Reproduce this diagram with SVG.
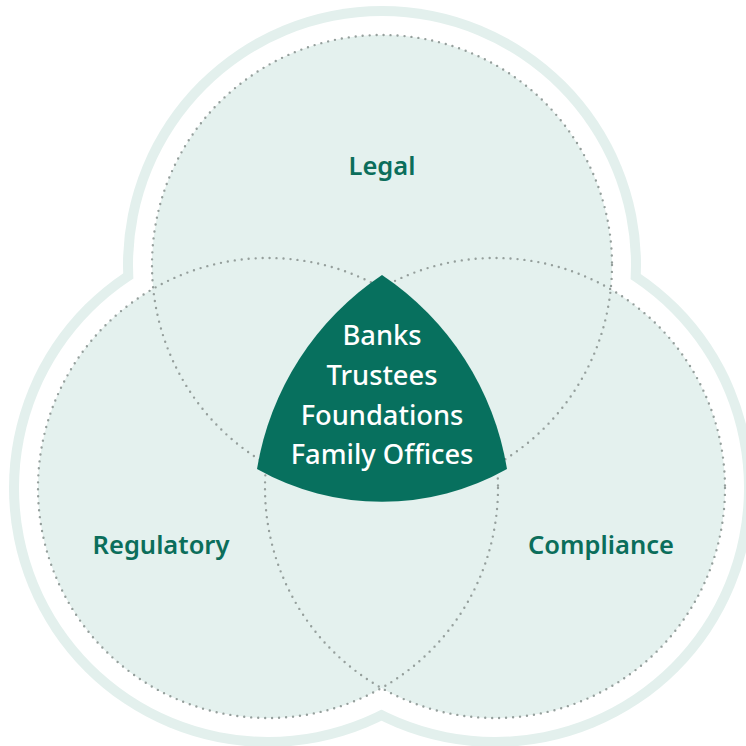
<svg xmlns="http://www.w3.org/2000/svg" width="746" height="746" viewBox="0 0 746 746">
  <style>
    .band { fill: #e3f0ed; }
    .gap { fill: #ffffff; }
    .fill { fill: #e4f1ee; }
    .dots { fill: none; stroke: #959f9c; stroke-width: 2.4; stroke-linecap: round; stroke-dasharray: 0 7; }
    .label { font-family: "Noto Sans", "Open Sans", sans-serif; font-weight: 600; font-size: 25.5px; fill: #0b6e5b; text-anchor: middle; }
    .core-text { font-family: "Noto Sans", "Open Sans", sans-serif; font-weight: 500; font-size: 27.3px; fill: #ffffff; text-anchor: middle; }
  </style>
  <rect width="746" height="746" fill="#ffffff"/>
  <g id="outline">
    <circle class="band" cx="382" cy="265" r="259"/>
    <circle class="band" cx="268" cy="488" r="259"/>
    <circle class="band" cx="495" cy="488" r="259"/>
    <circle class="gap" cx="382" cy="265" r="249"/>
    <circle class="gap" cx="268" cy="488" r="249"/>
    <circle class="gap" cx="495" cy="488" r="249"/>
  </g>
  <g id="fills">
    <circle class="fill" cx="382" cy="265" r="230"/>
    <circle class="fill" cx="268" cy="488" r="230"/>
    <circle class="fill" cx="495" cy="488" r="230"/>
  </g>
  <g id="legal">
    <circle class="dots" cx="382" cy="265" r="230"/>
    <text class="label" x="382" y="175">Legal</text>
  </g>
  <g id="regulatory">
    <circle class="dots" cx="268" cy="488" r="230"/>
    <text class="label" x="161" y="554">Regulatory</text>
  </g>
  <g id="compliance">
    <circle class="dots" cx="495" cy="488" r="230"/>
    <text class="label" x="601" y="554">Compliance</text>
  </g>
  <g id="center">
    <path d="M382,275 A290,290 0 0,0 257,469 A255,255 0 0,0 507,469 A290,290 0 0,0 382,275 Z" fill="#07705e"/>
    <text class="core-text" x="382" y="345">Banks</text>
    <text class="core-text" x="382" y="385">Trustees</text>
    <text class="core-text" x="382" y="425">Foundations</text>
    <text class="core-text" x="382" y="464">Family Offices</text>
  </g>
</svg>
